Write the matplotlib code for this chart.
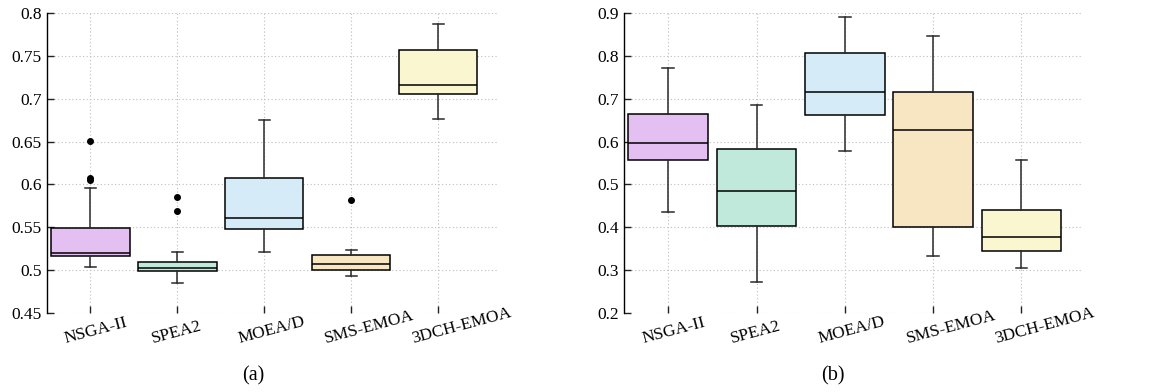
import matplotlib
matplotlib.use("Agg")
import matplotlib.pyplot as plt
from matplotlib.transforms import ScaledTranslation

plt.rcParams["font.family"] = ["Liberation Serif", "DejaVu Serif"]

algorithms = ["NSGA-II", "SPEA2", "MOEA/D", "SMS-EMOA", "3DCH-EMOA"]
box_colors = ["#E3C0F1", "#C0E8DB", "#D5EBF8", "#F8E5C1", "#FAF6CF"]

# Panel (a) box statistics
a_whislo = [0.5033, 0.4842, 0.5208, 0.4924, 0.6762]
a_q1 = [0.5165, 0.4990, 0.5473, 0.5000, 0.7054]
a_med = [0.5200, 0.5020, 0.5606, 0.5068, 0.7159]
a_q3 = [0.5490, 0.5087, 0.6073, 0.5180, 0.7568]
a_whishi = [0.5956, 0.5208, 0.6750, 0.5232, 0.7880]
a_fliers = [[0.651, 0.607, 0.605], [0.585, 0.569], [], [0.5816], []]
a_yticks = [0.45, 0.5, 0.55, 0.6, 0.65, 0.7, 0.75, 0.8]
a_yticklabels = ["0.45", "0.5", "0.55", "0.6", "0.65", "0.7", "0.75", "0.8"]

# Panel (b) box statistics
b_whislo = [0.4354, 0.2718, 0.5773, 0.3318, 0.3052]
b_q1 = [0.5563, 0.4034, 0.6615, 0.4000, 0.3442]
b_med = [0.5975, 0.4845, 0.7160, 0.6264, 0.3763]
b_q3 = [0.6638, 0.5820, 0.8080, 0.7153, 0.4408]
b_whishi = [0.7728, 0.6863, 0.8920, 0.8460, 0.5577]
b_fliers = [[], [], [], [], []]
b_yticks = [0.2, 0.3, 0.4, 0.5, 0.6, 0.7, 0.8, 0.9]
b_yticklabels = ["0.2", "0.3", "0.4", "0.5", "0.6", "0.7", "0.8", "0.9"]

fig = plt.figure(figsize=(11.6, 3.92), dpi=100)
ax_a = fig.add_axes([0.0405, 0.2023, 0.389, 0.7637])
ax_b = fig.add_axes([0.538, 0.2023, 0.395, 0.7637])


def draw_panel(ax, whislo, q1, med, q3, whishi, fliers, yticks, yticklabels):
    stats = []
    for i, name in enumerate(algorithms):
        stats.append(dict(label=name, whislo=whislo[i], q1=q1[i], med=med[i],
                          q3=q3[i], whishi=whishi[i], fliers=fliers[i]))
    positions = list(range(1, len(algorithms) + 1))
    bp = ax.bxp(stats, positions=positions, widths=0.9, patch_artist=True,
                showfliers=True, capwidths=0.13,
                boxprops=dict(edgecolor="black", linewidth=1.1),
                medianprops=dict(color="black", linewidth=1.1),
                whiskerprops=dict(color="#2a2a2a", linewidth=1.1),
                capprops=dict(color="#2a2a2a", linewidth=1.1),
                flierprops=dict(marker="o", markerfacecolor="black",
                                markeredgecolor="black", markersize=4))
    for patch, c in zip(bp["boxes"], box_colors):
        patch.set_facecolor(c)
        patch.set_zorder(3)
    for key in ("medians", "whiskers", "caps", "fliers"):
        for art in bp[key]:
            art.set_zorder(4)

    ax.set_xlim(0.5, 5.69)
    ax.set_ylim(yticks[0], yticks[-1])
    ax.set_yticks(yticks)
    ax.set_yticklabels(yticklabels)
    ax.set_xticks(positions)
    ax.set_xticklabels([])

    for side in ("top", "right", "bottom"):
        ax.spines[side].set_visible(False)
    ax.spines["left"].set_linewidth(1.0)
    ax.tick_params(axis="both", direction="in", length=5, width=1.0,
                   color="#222222", labelsize=12.5, pad=4)
    ax.grid(True, linestyle=(0, (1, 2.2)), color="#bdbdbd", linewidth=0.8)
    ax.set_axisbelow(True)

    # Slanted category names anchored at their lower-left corner
    offset = ScaledTranslation(-0.25, -0.30, fig.dpi_scale_trans)
    for x, name in zip(positions, algorithms):
        ax.text(x, 0, name, transform=ax.get_xaxis_transform() + offset,
                rotation=15, rotation_mode="anchor", ha="left",
                va="baseline", fontsize=12.5)


draw_panel(ax_a, a_whislo, a_q1, a_med, a_q3, a_whishi, a_fliers,
           a_yticks, a_yticklabels)
draw_panel(ax_b, b_whislo, b_q1, b_med, b_q3, b_whishi, b_fliers,
           b_yticks, b_yticklabels)

fig.text(253 / 1160, 0.041, "(a)", ha="center", va="center", fontsize=14.5)
fig.text(833 / 1160, 0.041, "(b)", ha="center", va="center", fontsize=14.5)

fig.savefig("out.png", dpi=100)
